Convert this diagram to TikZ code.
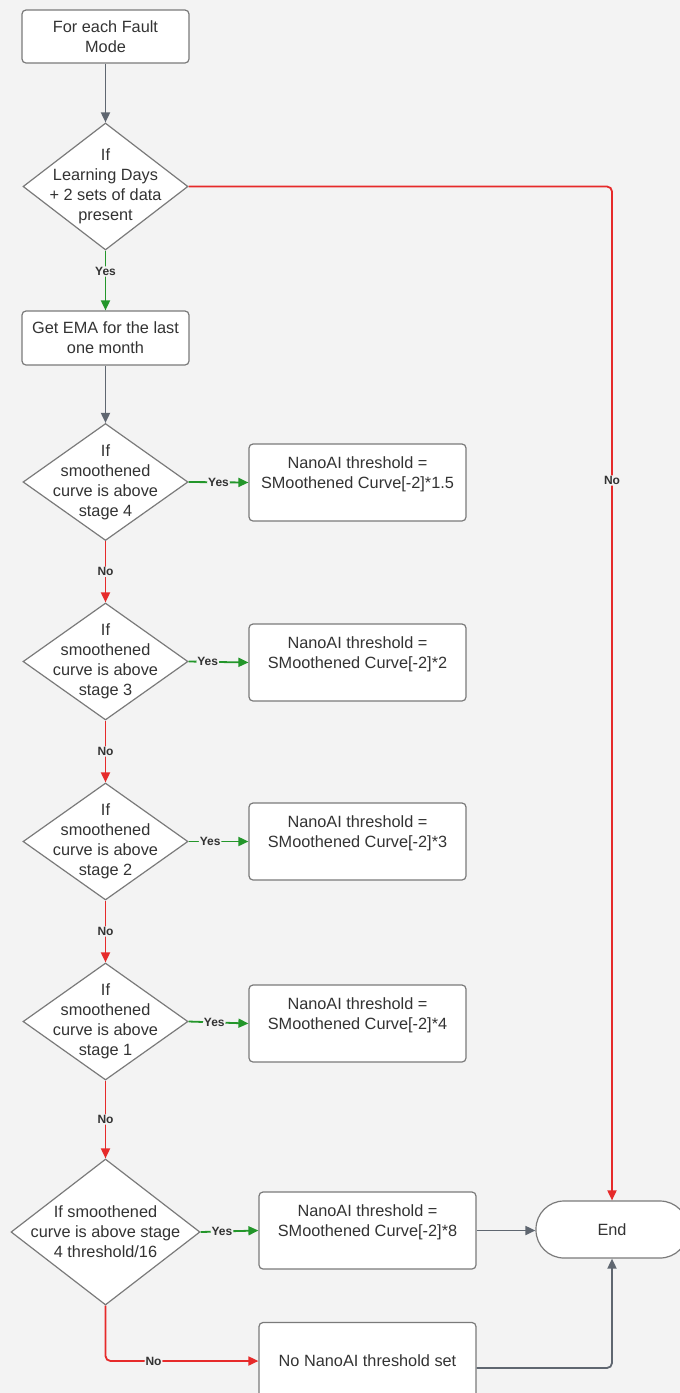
\documentclass[tikz,border=0pt]{standalone}
\usepackage{fontspec}
\setmainfont{Liberation Sans}
\usetikzlibrary{shapes.geometric,arrows.meta}
\definecolor{bg}{HTML}{F3F3F3}
\definecolor{edgec}{HTML}{7A7A7A}
\definecolor{ink}{HTML}{333333}
\definecolor{redl}{HTML}{E62A2A}
\definecolor{greenl}{HTML}{23962A}
\definecolor{grayl}{HTML}{5F6670}
\begin{document}
\begin{tikzpicture}[x=1pt,y=-1pt,
  every node/.style={font=\fontsize{16.3}{20}\selectfont, text=ink},
  box/.style={draw=edgec, fill=white, line width=1.2pt, rounded corners=4pt, align=center, inner sep=0pt},
  tbox/.style={box, minimum width=217pt, minimum height=77pt},
  dia/.style={draw=edgec, fill=white, line width=1.2pt, diamond, inner sep=0pt, minimum width=165pt, minimum height=117pt},
  dtext/.style={align=center, inner sep=0pt},
  lab/.style={font=\fontsize{12}{14}\selectfont\bfseries, fill=bg, inner sep=1pt, text=ink},
  conn/.style={line width=1.8pt, -{Triangle[length=10pt,width=9pt]}, rounded corners=5pt},
  gconn/.style={conn, draw=grayl},
  yconn/.style={conn, draw=greenl},
  nconn/.style={conn, draw=redl}
]
\fill[bg] (0,0) rectangle (680,1393);
\useasboundingbox (0,0) rectangle (680,1393);

% nodes
\node[box, minimum width=167pt, minimum height=53pt] (start) at (105.5,36.5) {For each Fault\\Mode};
\node[dia, minimum height=127pt] (d1) at (105.5,186.5) {};
\node[dtext] (d1t) at (d1) {If\\Learning Days\\+ 2 sets of data\\present};
\node[box, minimum width=167pt, minimum height=54pt] (ema) at (105.5,338) {Get EMA for the last\\one month};

\node[dia] (d2) at (105.5,482) {};
\node[dtext] (d2t) at (d2) {If\\smoothened\\curve is above\\stage 4};
\node[dia] (d3) at (105.5,661.5) {};
\node[dtext] (d3t) at (d3) {If\\smoothened\\curve is above\\stage 3};
\node[dia] (d4) at (105.5,841.5) {};
\node[dtext] (d4t) at (d4) {If\\smoothened\\curve is above\\stage 2};
\node[dia] (d5) at (105.5,1021.5) {};
\node[dtext] (d5t) at (d5) {If\\smoothened\\curve is above\\stage 1};
\node[dia, minimum width=189pt, minimum height=146pt] (d6) at (105.5,1232) {};
\node[dtext] (d6t) at (d6) {If smoothened\\curve is above stage\\4 threshold/16};

\node[tbox] (t1) at (357.5,482.5) {NanoAI threshold =\\SMoothened Curve[-2]*1.5\\\mbox{}};
\node[tbox] (t2) at (357.5,662.5) {NanoAI threshold =\\SMoothened Curve[-2]*2\\\mbox{}};
\node[tbox] (t3) at (357.5,841.5) {NanoAI threshold =\\SMoothened Curve[-2]*3\\\mbox{}};
\node[tbox] (t4) at (357.5,1023.5) {NanoAI threshold =\\SMoothened Curve[-2]*4\\\mbox{}};
\node[tbox] (t5) at (367.5,1230.5) {NanoAI threshold =\\SMoothened Curve[-2]*8\\\mbox{}};
\node[tbox] (t6) at (367.5,1361) {No NanoAI threshold set};

\node[box, rounded corners=28pt, minimum width=152pt, minimum height=57pt] (end) at (612,1229.5) {End};

% connectors
\draw[gconn] (start) -- (d1);
\draw[yconn] (d1) -- node[lab, pos=0.35] {Yes} (ema);
\draw[gconn] (ema) -- (d2);

\draw[yconn] (d2.east) -- node[lab, pos=0.5] {Yes} (t1.west);
\draw[yconn] (d3.east) -- node[lab, pos=0.32] {Yes} (t2.west);
\draw[yconn] (d4.east) -- node[lab, pos=0.36] {Yes} (t3.west);
\draw[yconn] (d5.east) -- node[lab, pos=0.43] {Yes} (t4.west);
\draw[yconn] (d6.east) -- node[lab, pos=0.37] {Yes} (t5.west);

\draw[nconn] (d2) -- node[lab] {No} (d3);
\draw[nconn] (d3) -- node[lab] {No} (d4);
\draw[nconn] (d4) -- node[lab] {No} (d5);
\draw[nconn] (d5) -- node[lab] {No} (d6);

\draw[nconn] (d1.east) -| node[lab, pos=0.645] {No} (end.north);
\draw[nconn] (d6.south) |- node[lab, pos=0.657] {No} (t6.west);

\draw[gconn] (t5.east) -- (t5.east -| end.west);
\draw[gconn] ([yshift=-7pt]t6.east) -| (end.south);
\end{tikzpicture}
\end{document}
